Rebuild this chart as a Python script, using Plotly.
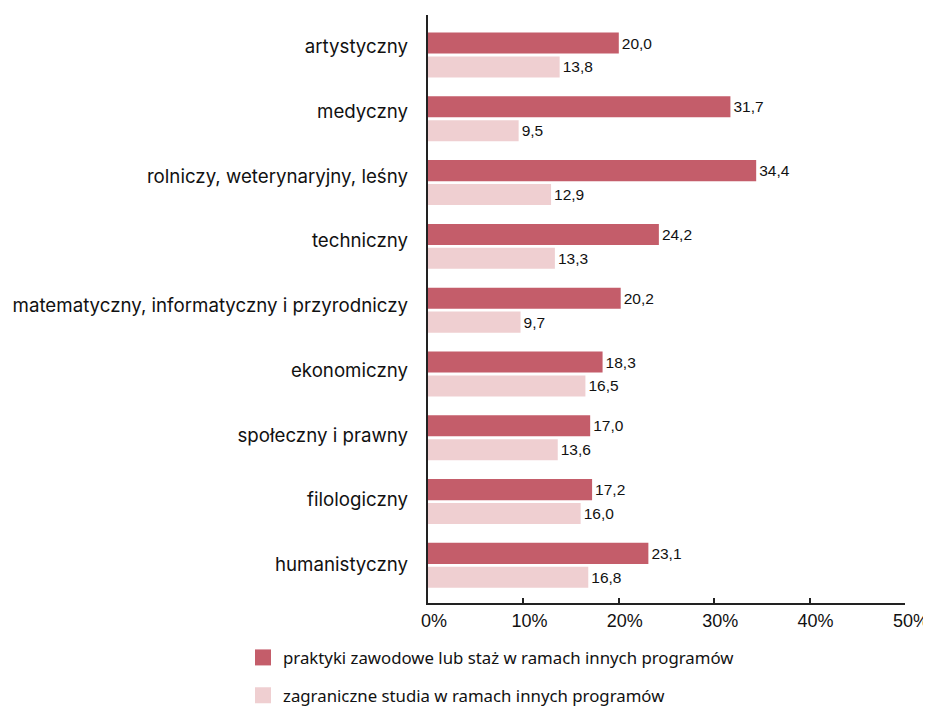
import plotly.graph_objects as go

categories = ["artystyczny", "medyczny", "rolniczy, weterynaryjny, leśny", "techniczny",
              "matematyczny, informatyczny i przyrodniczy", "ekonomiczny",
              "społeczny i prawny", "filologiczny", "humanistyczny"]
praktyki = [20.0, 31.7, 34.4, 24.2, 20.2, 18.3, 17.0, 17.2, 23.1]
zagraniczne = [13.8, 9.5, 12.9, 13.3, 9.7, 16.5, 13.6, 16.0, 16.8]
series_names = ["praktyki zawodowe lub staż w ramach innych programów",
                "zagraniczne studia w ramach innych programów"]
colors = ["#c45d6a", "#efcfd1"]
x_ticks = [0, 10, 20, 30, 40, 50]
x_tick_labels = ["0%", "10%", "20%", "30%", "40%", "50%"]

def fmt(v):
    return f"{v:.1f}".replace(".", ",")

fig = go.Figure()
for name, vals, col in zip(series_names, [praktyki, zagraniczne], colors):
    fig.add_trace(go.Bar(
        y=categories, x=vals, orientation="h", name=name,
        marker=dict(color=col, line=dict(width=0)),
        text=[fmt(v) for v in vals], textposition="outside",
        textfont=dict(family="Liberation Sans", size=15.5, color="#111"),
        cliponaxis=False, showlegend=False, hoverinfo="x+y",
    ))
    fig.add_trace(go.Scatter(
        x=[None], y=[None], mode="markers", name=name,
        marker=dict(symbol="square", size=17, color=col),
        legendgroup=name, showlegend=True,
    ))
# carrier for the category label axis
fig.add_trace(go.Scatter(x=[None], y=[None], yaxis="y2", showlegend=False,
                         hoverinfo="skip"))

W, H = 923, 700
L, R, T, B = 420, 26, 7, 105
pw = W - L - R
ph = H - T - B
fig.update_layout(
    width=W, height=H,
    margin=dict(l=L, r=R, t=T, b=B, autoexpand=False),
    plot_bgcolor="white", paper_bgcolor="white",
    barmode="group", bargap=0.25, bargroupgap=0.12,
    showlegend=True,
    legend=dict(
        x=(235 - L) / pw, y=-(632 - (H - B)) / ph, yanchor="top", xanchor="left",
        font=dict(family="Noto Sans", size=16.8, color="#111"),
        tracegroupgap=13, traceorder="grouped",
        bgcolor="rgba(0,0,0,0)",
    ),
    font=dict(family="Liberation Sans", color="#111"),
    xaxis=dict(
        range=[0, 50], tickvals=x_ticks, ticktext=x_tick_labels,
        showgrid=False, zeroline=False,
        showline=True, linecolor="#222", linewidth=1.8,
        ticks="inside", ticklen=5, tickcolor="#222", tickwidth=1.5,
        ticklabelshift=6,
        tickfont=dict(family="Liberation Sans", size=18, color="#111"),
    ),
    yaxis=dict(
        range=[8.59, -0.627], showgrid=False, zeroline=False,
        showline=True, linecolor="#222", linewidth=1.8, ticks="",
        showticklabels=False,
    ),
    yaxis2=dict(
        overlaying="y", anchor="x", side="left",
        range=[8.595, -0.4865], tickvals=list(range(len(categories))),
        ticktext=categories,
        showgrid=False, zeroline=False, showline=False, ticks="",
        ticklabelstandoff=19,
        tickfont=dict(family="Inter", size=18.7, color="#111"),
    ),
)
fig.write_html("out.html")
